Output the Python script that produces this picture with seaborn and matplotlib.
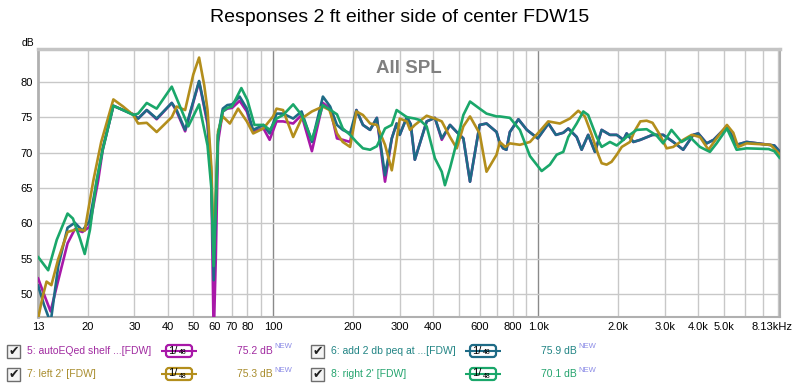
import numpy as np
import pandas as pd
import matplotlib
matplotlib.use("Agg")
import matplotlib.pyplot as plt
import matplotlib.transforms as mtransforms
from matplotlib.patches import FancyBboxPatch, Rectangle
import seaborn as sns

# ---------------- data ----------------
series_names = ["5: autoEQed shelf ...[FDW]", "6: add 2 db peq at ...[FDW]",
                "7: left 2' [FDW]", "8: right 2' [FDW]"]
series_levels = ["75.2 dB", "75.9 dB", "75.3 dB", "70.1 dB"]
smoothing_label = "1/48"

common_freq = [13, 13.7, 14.5, 15.5, 16.8, 17.9, 19.1, 20.3, 21.9, 22.8, 25.0, 27.2, 29.7, 31.0,
               33.4, 36.4, 41.5, 43.3, 46.6, 52.6, 56.6, 58.5, 59.7, 60.8, 62.0, 64.6, 67.2, 70,
               74.8, 79.6, 84, 92, 97, 103, 109, 119, 128, 140, 154, 164, 174, 183, 195, 206, 218,
               232, 246, 264, 280, 292, 300, 319, 330, 342, 379, 407, 432, 464, 492, 521, 552, 600,
               637, 695, 715, 736, 757, 780, 840, 904, 994, 1090, 1163, 1240, 1295, 1393, 1454,
               1539, 1632, 1730, 1859, 1972, 2090, 2149, 2278, 2420, 2690, 2950, 3219, 3510, 3829,
               4000, 4302, 4570, 5130, 5580, 6085, 7370, 7740, 8130]

magenta_freq = common_freq
magenta_db = [52.3, 50.0, 47.6, 52.0, 57.2, 59.2, 58.8, 59.5, 66.0, 70.4, 76.6, 76.0, 75.4, 74.8,
              76.0, 74.7, 77.0, 75.8, 73.0, 80.0, 74.0, 66.0, 44.0, 55.0, 71.5, 75.8, 76.2, 76.3,
              77.3, 75.8, 73.0, 73.4, 71.8, 74.4, 74.4, 74.1, 75.3, 70.2, 77.0, 76.2, 72.0, 71.8,
              71.5, 76.0, 73.9, 73.2, 74.9, 65.9, 72.0, 74.1, 72.5, 75.0, 74.0, 69.0, 74.4, 74.9,
              71.8, 73.9, 72.9, 72.0, 65.9, 73.9, 74.1, 72.9, 71.3, 70.6, 70.4, 72.9, 74.7, 73.2,
              72.0, 74.1, 72.5, 72.8, 73.4, 72.2, 70.4, 72.5, 70.1, 73.2, 72.5, 72.5, 71.8, 72.7,
              71.5, 71.8, 72.5, 72.5, 71.5, 70.4, 72.5, 72.7, 71.3, 71.8, 73.7, 71.1, 71.5, 71.1,
              71.0, 70.1]

teal_freq = common_freq
teal_db = [51.3, 48.5, 46.0, 54.0, 59.4, 60.1, 59.0, 60.3, 67.0, 70.6, 76.6, 76.0, 75.4, 74.8,
           76.0, 74.8, 77.0, 76.0, 73.2, 80.1, 74.4, 67.0, 52.0, 62.0, 72.5, 76.2, 76.7, 76.8,
           77.9, 76.2, 73.2, 73.9, 72.7, 75.5, 75.5, 74.8, 75.8, 71.5, 77.9, 76.5, 73.9, 73.2,
           72.7, 76.0, 73.9, 73.2, 74.9, 66.8, 72.0, 74.1, 72.5, 75.0, 74.0, 69.0, 74.4, 74.9,
           72.0, 73.9, 72.9, 72.0, 65.9, 73.9, 74.1, 72.9, 71.3, 70.6, 70.4, 72.9, 74.7, 73.2,
           72.0, 74.1, 72.5, 72.8, 73.4, 72.2, 70.4, 72.5, 70.1, 73.2, 72.5, 72.5, 71.8, 72.7,
           71.5, 71.8, 72.5, 72.5, 71.5, 70.4, 72.5, 72.7, 71.3, 71.8, 73.7, 71.1, 71.5, 71.1,
           71.0, 70.1]

gold_freq = [13, 13.5, 14.0, 14.6, 15.5, 16.8, 18.3, 19.5, 21.0, 22.5, 25.0, 27.2, 29.7, 31.0,
             33.4, 36.4, 41.5, 43.3, 46.6, 50.0, 52.6, 55.0, 56.6, 58.5, 59.7, 60.8, 62.0, 64.6,
             68.7, 73.8, 79.6, 84.1, 91.8, 100, 103, 109, 119, 128, 140, 154, 163, 174, 183, 195,
             206, 218, 232, 246, 264, 280, 290, 300, 319, 328, 342, 379, 407, 432, 464, 492, 521,
             552, 600, 637, 695, 715, 750, 780, 851, 929, 1021, 1088, 1204, 1313, 1412, 1495,
             1588, 1680, 1730, 1806, 1885, 1972, 2060, 2211, 2300, 2420, 2556, 2690, 2868, 3040,
             3219, 3510, 3780, 4058, 4370, 4690, 5130, 5420, 5650, 6085, 7490, 8130]
gold_db = [46.5, 49.5, 51.8, 51.3, 55.0, 58.8, 59.2, 59.0, 66.0, 71.5, 77.5, 76.5, 75.3, 74.1,
           74.2, 72.9, 75.0, 76.5, 76.0, 81.0, 83.4, 79.5, 76.0, 68.0, 56.0, 64.0, 73.0, 75.1,
           74.1, 76.2, 74.4, 72.7, 73.4, 75.1, 76.2, 76.0, 72.2, 74.8, 75.8, 76.5, 76.0, 72.7,
           71.5, 70.8, 75.8, 75.3, 74.1, 73.9, 71.1, 67.5, 71.0, 74.8, 74.4, 73.2, 73.9, 75.2,
           74.8, 74.4, 72.2, 70.6, 73.7, 75.1, 72.7, 67.3, 69.7, 71.5, 70.8, 71.3, 71.1, 71.5,
           73.2, 74.4, 74.1, 74.8, 75.9, 75.1, 72.5, 69.7, 68.5, 68.3, 68.7, 69.7, 70.8, 71.5,
           73.0, 74.4, 74.5, 74.2, 72.5, 70.6, 70.8, 71.8, 72.5, 72.2, 70.4, 72.0, 73.9, 72.8,
           70.8, 71.3, 71.1, 69.7]

green_freq = [13, 14.2, 15.3, 16.8, 17.6, 18.7, 19.5, 20.4, 21.6, 22.8, 25.0, 27.2, 29.7, 31.0,
              33.4, 36.4, 41.5, 47.9, 52.6, 56.6, 58.5, 59.7, 60.8, 62.0, 64.6, 67.2, 70, 75.9,
              80, 85, 91.8, 97.3, 103, 109, 119, 128, 140, 154, 174, 183, 195, 206, 218, 232,
              246, 264, 280, 292, 319, 342, 357, 379, 407, 432, 444, 464, 492, 521, 552, 600,
              637, 695, 715, 780, 851, 929, 1028, 1104, 1171, 1240, 1295, 1393, 1475, 1539,
              1656, 1730, 1859, 1972, 2149, 2344, 2556, 2787, 2950, 3170, 3460, 3720, 4058,
              4425, 4690, 5130, 5580, 6085, 7370, 7740, 8130]
green_db = [55.3, 53.4, 57.7, 61.4, 60.7, 57.9, 55.7, 59.1, 66.0, 70.4, 76.6, 76.0, 75.3, 75.5,
            77.0, 76.2, 79.3, 73.7, 76.8, 71.0, 65.0, 54.0, 63.0, 72.5, 75.8, 76.3, 76.5, 79.1,
            77.4, 73.9, 73.9, 73.2, 74.8, 75.3, 76.8, 75.3, 71.8, 76.7, 75.4, 73.4, 72.5, 71.5,
            70.6, 70.4, 70.9, 73.4, 73.9, 76.0, 75.0, 74.8, 74.6, 73.7, 69.2, 67.3, 65.4, 67.8,
            71.5, 75.3, 77.2, 76.2, 75.5, 75.1, 75.1, 74.9, 73.2, 69.5, 67.4, 68.3, 69.7, 70.1,
            72.2, 74.1, 75.8, 75.3, 72.2, 70.8, 71.5, 71.0, 72.2, 73.2, 73.3, 72.4, 71.3, 73.2,
            71.5, 72.2, 70.8, 70.1, 71.3, 73.4, 70.4, 70.6, 70.5, 70.2, 69.2]

x_tick_values = [13, 20, 30, 40, 50, 60, 70, 80, 100, 200, 300, 400, 600, 800, 1000, 2000,
                 3000, 4000, 5000, 8130]
x_tick_labels = ["13", "20", "30", "40", "50", "60", "70", "80", "100", "200", "300", "400",
                 "600", "800", "1.0k", "2.0k", "3.0k", "4.0k", "5.0k", "8.13kHz"]
x_grid_values = [20, 30, 40, 50, 60, 70, 80, 90, 200, 300, 400, 500, 600, 700, 800, 900,
                 2000, 3000, 4000, 5000, 6000, 7000, 8000]
x_major_grid = [100, 1000]
y_tick_values = [50, 55, 60, 65, 70, 75, 80]

line_colors = ["#a818a8", "#1e6b86", "#b38e1c", "#1aa76a"]
text_colors = ["#a02aa0", "#218484", "#a88c2c", "#25a46e"]

# ---------------- build table ----------------
frames = []
for name, f, d in zip(series_names,
                      [magenta_freq, teal_freq, gold_freq, green_freq],
                      [magenta_db, teal_db, gold_db, green_db]):
    frames.append(pd.DataFrame({"freq": f, "dB": d, "series": name}))
df = pd.concat(frames, ignore_index=True)

sns.set_style("white")
plt.rcParams["font.family"] = ["Liberation Sans", "DejaVu Sans"]

W, H = 800, 387
fig = plt.figure(figsize=(W / 100, H / 100), dpi=100)
L, R, T, B = 38, 780, 49.3, 316.7
ax = fig.add_axes([L / W, 1 - B / H, (R - L) / W, (B - T) / H])

for xv in x_grid_values:
    ax.axvline(xv, color="#c8c8c8", lw=1.0, zorder=0)
for xv in x_major_grid:
    ax.axvline(xv, color="#8a8a8a", lw=1.0, zorder=0)
for yv in y_tick_values:
    ax.axhline(yv, color="#c8c8c8", lw=1.0, zorder=0)

sns.lineplot(data=df, x="freq", y="dB", hue="series", hue_order=series_names,
             palette=dict(zip(series_names, line_colors)), estimator=None, sort=False,
             linewidth=1.9, legend=False, ax=ax, zorder=3,
             solid_joinstyle="round", solid_capstyle="round")

ax.set_xscale("log")
ax.set_xlim(13, 8130)
ax.set_ylim(46.85, 84.57)
ax.set_xticks(x_tick_values)
ax.set_xticklabels(x_tick_labels)
ax.xaxis.set_minor_locator(matplotlib.ticker.NullLocator())
ax.set_yticks(y_tick_values)
ax.set_yticklabels([str(v) for v in y_tick_values])
ax.tick_params(axis="both", length=0, labelsize=8, colors="black")
ax.tick_params(axis="x", pad=4)
ax.tick_params(axis="y", pad=4)
ax.set_xlabel("")
ax.set_ylabel("")
for s in ax.spines.values():
    s.set_color("#b0b0b0")
    s.set_linewidth(1.5)
ax.spines["top"].set_linewidth(2.5)
ax.spines["top"].set_color("#c4c4c4")
ax.spines["left"].set_linewidth(2.0)

# shift last tick label left slightly
lbl = ax.get_xticklabels()[-1]
lbl.set_transform(lbl.get_transform() + mtransforms.ScaledTranslation(-8 / 100, 0, fig.dpi_scale_trans))

ax.text(0.50, 0.93, "All SPL", transform=ax.transAxes, ha="center", va="center",
        fontsize=13.5, fontweight="bold", color="#808080")

# ---------------- overlay in pixel coords ----------------
ov = fig.add_axes([0, 0, 1, 1], zorder=5)
ov.set_xlim(0, W)
ov.set_ylim(H, 0)
ov.axis("off")
ov.patch.set_alpha(0)

ov.text(400, 18, "Responses 2 ft either side of center FDW15", ha="center", va="center",
        fontsize=14, color="black")
ov.text(28, 43, "dB", ha="center", va="center", fontsize=7.5, color="black")

rows = [351, 374]
cols = [0, 304]
for i in range(4):
    xo = cols[i % 2]
    yc = rows[i // 2]
    c = line_colors[i]
    tc = text_colors[i]
    # checkbox
    ov.add_patch(Rectangle((7 + xo, yc - 6.5), 13, 13, fc="#f4f4f4", ec="#6e6e6e", lw=1.0))
    ov.text(13.5 + xo, yc + 0.5, "\u2714", ha="center", va="center", fontsize=9,
            color="#202020", family="DejaVu Sans")
    ov.text(27 + xo, yc, series_names[i], ha="left", va="center", fontsize=7.5, color=tc)
    # smoothing badge
    ov.plot([161 + xo, 197 + xo], [yc, yc], color=c, lw=1.5, solid_capstyle="butt")
    ov.add_patch(FancyBboxPatch((166 + xo, yc - 6), 26, 12,
                                boxstyle="round,pad=0,rounding_size=3",
                                fc="white", ec=c, lw=1.6))
    ov.text(168.5 + xo, yc - 0.5, "1/", ha="left", va="center", fontsize=8, color="black")
    ov.text(178.5 + xo, yc + 2, "48", ha="left", va="center", fontsize=5, color="black")
    ov.text(237 + xo, yc, series_levels[i], ha="left", va="center", fontsize=7.5, color=tc)
    ov.text(274.5 + xo, yc - 4, "NEW", ha="left", va="center", fontsize=5.5, color="#8a8ae6")

fig.savefig("out.png", dpi=100, facecolor="white")
